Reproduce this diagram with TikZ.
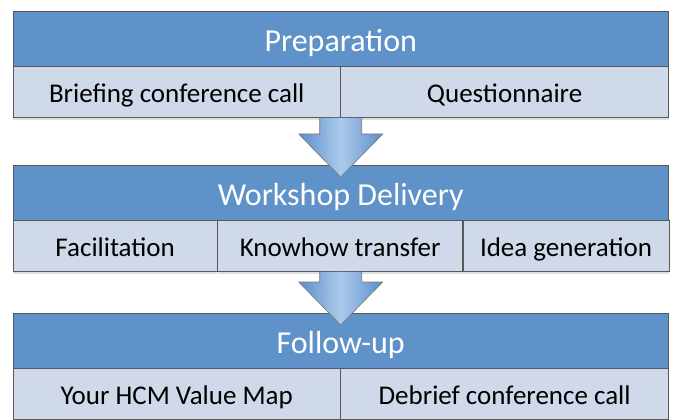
\documentclass[tikz,border=0pt]{standalone}
\usepackage{fontspec}
\setmainfont{Carlito}
\usepackage{xcolor}
\usepackage{tikz}
\usetikzlibrary{positioning,calc,shadows}

\definecolor{bandblue}{RGB}{94,146,200}
\definecolor{cellblue}{RGB}{207,217,233}
\definecolor{edgegray}{RGB}{88,88,88}
\definecolor{arrowblue}{RGB}{92,142,199}
\definecolor{arrowlight}{RGB}{172,203,236}

\begin{document}
\begin{tikzpicture}[x=1pt, y=-1pt,
        band/.style={draw=edgegray, fill=bandblue, text=white, minimum width=655pt, minimum height=55pt,
            inner sep=0pt, text height=26pt, text depth=0pt, font=\fontsize{32}{37}\selectfont},
        cell/.style={draw=edgegray, fill=cellblue, text=black, minimum height=51pt,
            inner sep=0pt, text height=20pt, text depth=0pt, font=\fontsize{27}{32}\selectfont,
            drop shadow={shadow xshift=0pt, shadow yshift=-2pt, opacity=0.25}},
        flow/.style={draw=edgegray!80, line width=0.6pt, left color=arrowblue, right color=arrowblue, middle color=arrowlight}]

    \useasboundingbox (0,0) rectangle (673,420);

    \node[band, anchor=north west] (prep) at (13,11) {Preparation};
    \node[cell, minimum width=327pt, below right=0pt and 0pt of prep.south west] (prep-brief) {Briefing conference call};
    \node[cell, minimum width=328pt, right=0pt of prep-brief] (prep-quest) {Questionnaire};

    \node[band, anchor=north west] (deliv) at (13,165) {Workshop Delivery};
    \node[cell, minimum width=204pt, below right=0pt and 0pt of deliv.south west] (deliv-facil) {Facilitation};
    \node[cell, minimum width=245pt, right=0pt of deliv-facil] (deliv-know) {Knowhow transfer};
    \node[cell, minimum width=206pt, right=0pt of deliv-know] (deliv-idea) {Idea generation};

    \node[band, anchor=north west] (follow) at (13,313) {Follow-up};
    \node[cell, minimum width=327pt, below right=0pt and 0pt of follow.south west] (follow-map) {Your HCM Value Map};
    \node[cell, minimum width=328pt, right=0pt of follow-map] (follow-debrief) {Debrief conference call};

    \foreach \from/\to in {prep-brief/deliv, deliv-facil/follow} {
        \coordinate (top) at (\to.north |- \from.south);
        \coordinate (tip) at ($(\to.north)+(0,12)$);
        \draw[flow] ($(top)+(-21,0)$) -- ($(tip)+(-21,-43)$) -- ($(tip)+(-42,-43)$) -- (tip)
            -- ($(tip)+(42,-43)$) -- ($(tip)+(21,-43)$) -- ($(top)+(21,0)$);
    }
\end{tikzpicture}
\end{document}
